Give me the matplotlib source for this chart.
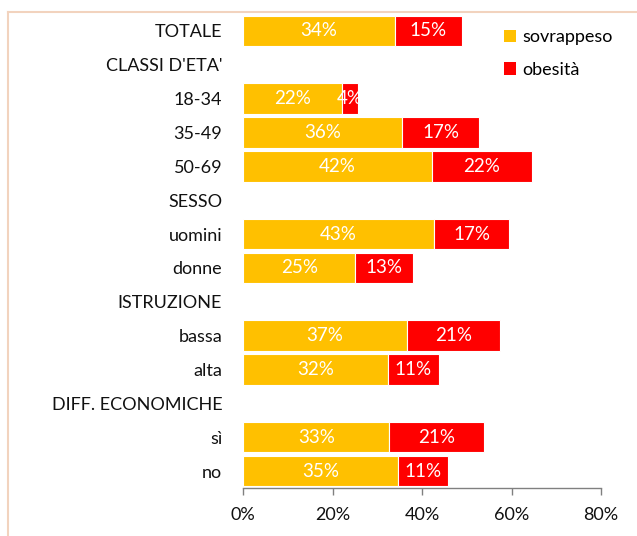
import matplotlib
matplotlib.use("Agg")
import matplotlib.pyplot as plt
from matplotlib.lines import Line2D
from matplotlib.patches import Patch
import numpy as np

plt.rcParams['font.family'] = ['Lato', 'DejaVu Sans']

categories = ["TOTALE", "CLASSI D'ETA'", "18-34", "35-49", "50-69", "SESSO",
              "uomini", "donne", "ISTRUZIONE", "bassa", "alta",
              "DIFF. ECONOMICHE", "sì", "no"]
sovrappeso = [34.0, None, 22.1, 35.6, 42.3, None, 42.7, 25.1, None, 36.7, 32.4, None, 32.7, 34.7]
obesita = [14.9, None, 3.6, 17.1, 22.2, None, 16.8, 13.0, None, 20.7, 11.4, None, 21.2, 11.0]
xticks = [0, 20, 40, 60, 80]
series_names = ["sovrappeso", "obesità"]
colors = ["#FFC000", "#FF0000"]

fig = plt.figure(figsize=(6.37, 5.36), dpi=100)
ax = fig.add_axes([243/637, 1-488/536, (601-243)/637, (488-14)/536])

y = np.arange(len(categories))
s = np.array([v if v is not None else 0 for v in sovrappeso])
o = np.array([v if v is not None else 0 for v in obesita])
mask = np.array([v is not None for v in sovrappeso])

ax.barh(y[mask], s[mask], height=0.9, color=colors[0], edgecolor='white', linewidth=0.8)
ax.barh(y[mask], o[mask], left=s[mask], height=0.9, color=colors[1], edgecolor='white', linewidth=0.8)

fs = 13
for yi, sv, ov, m in zip(y, s, o, mask):
    if not m:
        continue
    ax.text(sv/2, yi, f"{sv:.0f}%", ha='center', va='center', color='white', fontsize=13.5)
    ax.text(sv + ov/2, yi, f"{ov:.0f}%", ha='center', va='center', color='white', fontsize=13.5)

ax.set_ylim(len(categories)-0.5, -0.5)
ax.set_xlim(0, 80)
ax.set_yticks(y)
ax.set_yticklabels(categories, fontsize=fs, color='#111111')
ax.tick_params(axis='y', length=0, pad=15)
ax.set_xticks(xticks)
ax.set_xticklabels([f"{t}%" for t in xticks], fontsize=fs, color='#111111')
ax.tick_params(axis='x', length=5, color='#808080', width=1, pad=9, direction='out')
for sp in ['left', 'right', 'top']:
    ax.spines[sp].set_visible(False)
ax.spines['bottom'].set_color('#808080')
ax.spines['bottom'].set_linewidth(1)

handles = [Patch(facecolor=c, edgecolor='none') for c in colors]
fig.legend(handles, series_names, loc='upper left', bbox_to_anchor=(488/637, 1-13/536),
           frameon=False, fontsize=fs, handlelength=0.65, handleheight=0.7,
           handletextpad=0.35, labelspacing=0.9)

# outer frame
fc = '#F2D3BE'
fig.add_artist(Line2D([8/637, 8/637], [0, 1-12/536], color=fc, linewidth=1.5, transform=fig.transFigure))
fig.add_artist(Line2D([8/637, 1], [1-12/536, 1-12/536], color=fc, linewidth=1.5, transform=fig.transFigure))

fig.savefig("out.png", dpi=100)
